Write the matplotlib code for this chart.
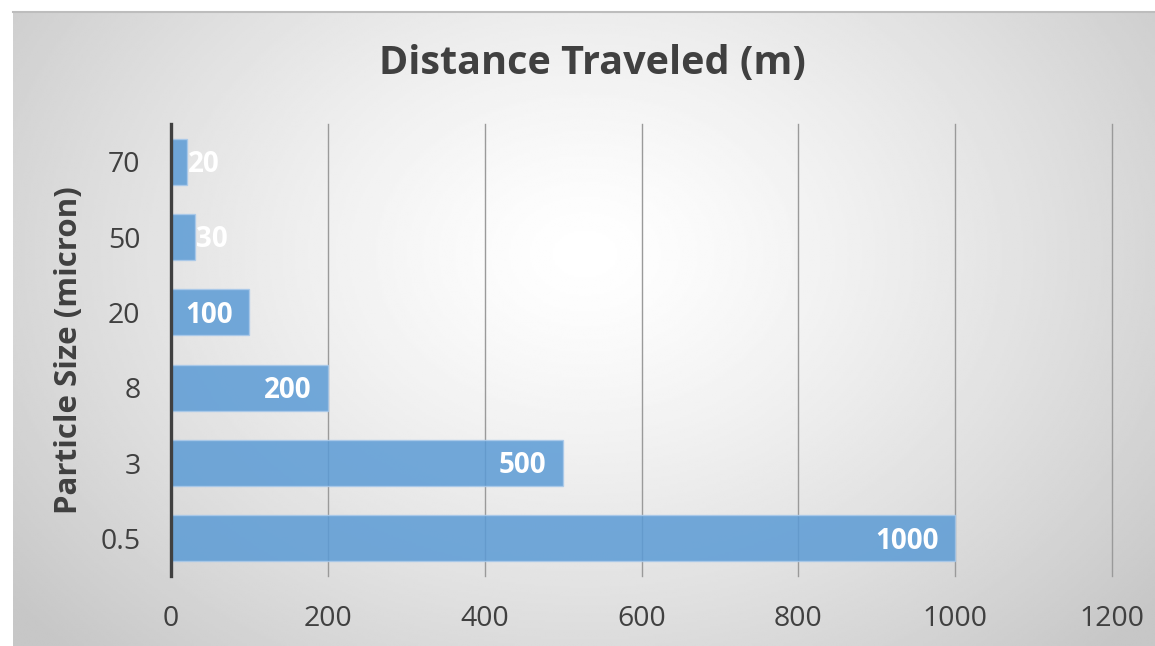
import numpy as np
import matplotlib.pyplot as plt

# --- DATA ---
sizes = ['0.5', '3', '8', '20', '50', '70']
distances = [1000, 500, 200, 100, 30, 20]
x_ticks = [0, 200, 400, 600, 800, 1000, 1200]

FONT = 'Open Sans'
TXT = '#404040'
BAR = '#5b9bd5'

fig = plt.figure(figsize=(11.55, 6.46), dpi=100)
fig.set_facecolor('white')

# radial gradient background for the chart area
bg = fig.add_axes([13 / 1155, 0, 1 - 13 / 1155, 1 - 12 / 646], zorder=-2)
h, w = 300, 540
yy, xx = np.mgrid[0:h, 0:w]
cx, cy = 0.5 * w, 0.38 * h
r = np.sqrt(((xx - cx) / (w * 0.62)) ** 2 + ((yy - cy) / (h * 0.85)) ** 2)
r = np.clip(r / r.max() * 1.05, 0, 1)
val = 1.0 - 0.22 * r ** 1.3
bg.imshow(val, cmap='gray', vmin=0, vmax=1, aspect='auto', interpolation='bilinear')
bg.set_axis_off()
fig.add_artist(plt.Line2D([13 / 1155, 1], [1 - 12 / 646, 1 - 12 / 646],
                          transform=fig.transFigure, color='#bdbdbd', lw=1.5))

ax = fig.add_axes([171 / 1155, 70 / 646, (1112 - 171) / 1155, 452 / 646])
ax.set_facecolor('none')

ypos = np.arange(len(sizes))
ax.barh(ypos, distances, height=0.61, color=BAR, alpha=0.85,
        edgecolor='#a9c9ea', linewidth=1, zorder=2)

for y, v in zip(ypos, distances):
    if v < 60:
        ax.annotate(str(v), (v, y), xytext=(1, -2), textcoords='offset points',
                    ha='left', va='center', color='white', fontsize=20,
                    fontweight='bold', family=FONT, zorder=3)
    else:
        ax.annotate(str(v), (v, y), xytext=(-12, -2), textcoords='offset points',
                    ha='right', va='center', color='white', fontsize=20,
                    fontweight='bold', family=FONT, zorder=3)

ax.set_xlim(0, 1200)
ax.set_ylim(-0.5, len(sizes) - 0.5)
ax.set_xticks(x_ticks)
ax.set_yticks(ypos)
ax.set_yticklabels(sizes)
ax.grid(axis='x', color='#9a9a9a', lw=1, zorder=1)
for gl in ax.get_xgridlines():
    gl.set_clip_on(False)
ax.set_axisbelow(True)

for s in ['top', 'right', 'bottom']:
    ax.spines[s].set_visible(False)
ax.spines['left'].set_color('#404040')
ax.spines['left'].set_linewidth(2.4)
ax.spines['left'].set_zorder(4)

ax.tick_params(axis='both', length=0, labelsize=20.5, labelcolor=TXT)
ax.tick_params(axis='x', pad=21)
ax.tick_params(axis='y', pad=22)
for lab in ax.get_xticklabels() + ax.get_yticklabels():
    lab.set_family(FONT)

ax.set_ylabel('Particle Size (micron)', fontsize=22.5, fontweight='bold',
              color=TXT, family=FONT, labelpad=12)

fig.text(592 / 1155, 1 - 64 / 646, 'Distance Traveled (m)', ha='center', va='center',
         fontsize=28.5, fontweight='bold', color=TXT, family=FONT)

plt.savefig('out.png', dpi=100, facecolor='white')
